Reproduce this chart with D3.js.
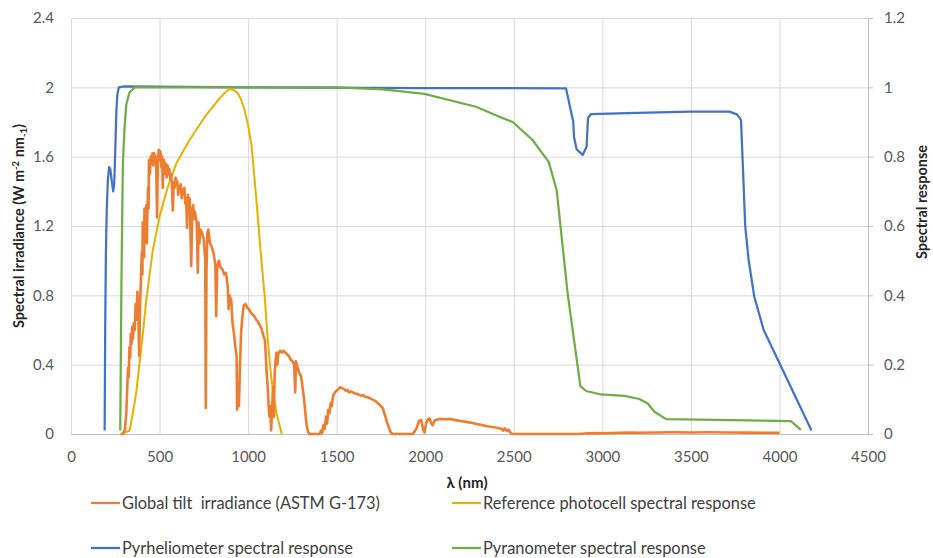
<!DOCTYPE html>
<html>
<head>
<meta charset="utf-8">
<script src="https://cdn.jsdelivr.net/npm/d3@7"></script>
<style>
  body { margin: 0; background: #fff; }
  text { font-family: Lato, "Open Sans", sans-serif; }
</style>
</head>
<body>
<script>
// wavelength (nm) / value pairs
var globalTilt = [[280,0],[295,0],[305,0.03],[312,0.12],[318,0.28],[322,0.38],[326,0.33],[330,0.5],[334,0.44],[338,0.58],[342,0.52],[346,0.62],[350,0.55],[355,0.64],[360,0.6],[365,0.75],[370,0.66],[375,0.82],[380,0.7],[385,0.45],[390,0.75],[395,0.9],[400,1.05],[403,0.92],[405,1.22],[410,1.15],[413,1.02],[415,1.3],[420,1.2],[425,1.32],[428,1.1],[430,1.22],[435,1.42],[438,1.3],[440,1.58],[445,1.5],[450,1.6],[455,1.56],[460,1.62],[465,1.55],[470,1.62],[475,1.58],[480,1.6],[486,1.25],[490,1.55],[495,1.64],[500,1.58],[505,1.63],[510,1.54],[515,1.6],[518,1.42],[520,1.52],[525,1.58],[530,1.5],[535,1.56],[540,1.48],[545,1.55],[550,1.5],[555,1.53],[560,1.47],[565,1.5],[570,1.44],[575,1.29],[580,1.45],[585,1.42],[590,1.48],[595,1.44],[600,1.46],[605,1.38],[610,1.42],[620,1.44],[625,1.36],[630,1.4],[640,1.42],[645,1.33],[650,1.36],[655,1.19],[660,1.38],[665,1.33],[670,1.36],[679,0.97],[685,1.3],[690,1.32],[695,1.24],[700,1.28],[710,1.22],[716,0.93],[720,1.22],[725,1.1],[730,1.18],[740,1.16],[750,1.12],[758,1.0],[761,0.15],[765,0.95],[770,1.16],[775,1.18],[785,1.1],[795,1.08],[805,1.04],[815,0.98],[820,0.68],[825,0.96],[835,1.0],[845,0.96],[855,0.95],[865,0.92],[875,0.93],[885,0.85],[890,0.72],[895,0.8],[905,0.77],[912,0.64],[920,0.58],[928,0.5],[935,0.45],[938,0.14],[942,0.3],[948,0.16],[953,0.35],[960,0.58],[968,0.68],[975,0.74],[985,0.75],[995,0.73],[1005,0.72],[1015,0.7],[1025,0.69],[1035,0.68],[1045,0.66],[1055,0.65],[1065,0.63],[1075,0.61],[1085,0.57],[1095,0.54],[1100,0.45],[1105,0.35],[1110,0.28],[1115,0.18],[1120,0.1],[1125,0.16],[1130,0.02],[1135,0.12],[1140,0.27],[1145,0.1],[1150,0.35],[1155,0.42],[1160,0.47],[1165,0.4],[1170,0.46],[1180,0.48],[1190,0.47],[1200,0.48],[1210,0.47],[1220,0.46],[1230,0.45],[1240,0.43],[1250,0.42],[1260,0.4],[1266,0.24],[1270,0.42],[1280,0.38],[1290,0.35],[1300,0.33],[1310,0.25],[1318,0.18],[1325,0.1],[1332,0.04],[1340,0.01],[1346,0],[1405,0],[1412,0.02],[1418,0.005],[1425,0.05],[1432,0.03],[1440,0.1],[1446,0.06],[1452,0.14],[1460,0.12],[1466,0.18],[1472,0.16],[1480,0.22],[1490,0.24],[1500,0.25],[1510,0.26],[1520,0.27],[1530,0.265],[1540,0.26],[1550,0.25],[1560,0.255],[1570,0.24],[1580,0.245],[1590,0.24],[1600,0.235],[1620,0.23],[1640,0.22],[1650,0.225],[1660,0.215],[1680,0.21],[1700,0.2],[1720,0.19],[1740,0.17],[1760,0.15],[1775,0.1],[1790,0.05],[1805,0.01],[1815,0],[1930,0],[1950,0.03],[1965,0.075],[1977,0.08],[1990,0.02],[1996,0.01],[2005,0.06],[2015,0.085],[2024,0.09],[2035,0.06],[2042,0.05],[2055,0.08],[2080,0.087],[2110,0.085],[2140,0.087],[2170,0.08],[2200,0.075],[2230,0.07],[2260,0.065],[2290,0.058],[2320,0.052],[2350,0.045],[2380,0.04],[2410,0.035],[2430,0.03],[2440,0.02],[2450,0.032],[2460,0.018],[2470,0.025],[2485,0.003],[2500,0],[2880,0],[2900,0.003],[2950,0.005],[3000,0.004],[3050,0.006],[3100,0.007],[3150,0.008],[3200,0.007],[3300,0.009],[3400,0.01],[3500,0.009],[3600,0.01],[3700,0.009],[3800,0.008],[3900,0.007],[4000,0.007]];

var photocell = [[284,0],[331,0.01],[349,0.06],[368,0.118],[387,0.205],[406,0.29],[425,0.386],[462,0.53],[500,0.627],[547,0.713],[594,0.78],[669,0.848],[707,0.877],[763,0.92],[839,0.968],[870,0.985],[895,0.995],[920,0.992],[942,0.983],[960,0.965],[980,0.935],[1000,0.89],[1020,0.83],[1046,0.68],[1070,0.53],[1093,0.4],[1110,0.28],[1130,0.165],[1160,0.06],[1190,0]];

var pyrheliometer = [[190,0.01],[193,0.3],[197,0.52],[202,0.65],[208,0.73],[215,0.77],[222,0.765],[230,0.73],[238,0.7],[244,0.72],[250,0.82],[256,0.93],[262,0.98],[270,1.0],[300,1.003],[1000,1.0],[2000,0.998],[2795,0.997],[2836,0.9],[2840,0.857],[2855,0.821],[2889,0.805],[2911,0.829],[2919,0.911],[2936,0.923],[3200,0.926],[3500,0.93],[3717,0.93],[3760,0.922],[3783,0.906],[3807,0.598],[3826,0.502],[3858,0.396],[3911,0.3],[4181,0.01]];

var pyranometer = [[278,0.01],[285,0.45],[293,0.78],[302,0.88],[312,0.95],[330,0.985],[360,1.0],[1000,1.0],[1497,1.0],[1760,0.994],[1995,0.981],[2287,0.944],[2419,0.915],[2494,0.9],[2606,0.848],[2697,0.785],[2742,0.704],[2804,0.406],[2876,0.138],[2908,0.124],[2992,0.114],[3124,0.11],[3209,0.101],[3256,0.088],[3294,0.064],[3360,0.043],[4065,0.037],[4121,0.012]];

var xTicks = [0, 500, 1000, 1500, 2000, 2500, 3000, 3500, 4000, 4500];
var yLeftTicks = [0, 0.4, 0.8, 1.2, 1.6, 2, 2.4];
var yRightTicks = [0, 0.2, 0.4, 0.6, 0.8, 1, 1.2];

var W = 933, H = 558;
var pL = 71, pR = 868, pT = 18, pB = 434;

var svg = d3.select("body").append("svg")
  .attr("width", W)
  .attr("height", H);

var x = d3.scaleLinear().domain([0, 4500]).range([pL, pR]);
var yL = d3.scaleLinear().domain([0, 2.4]).range([pB, pT]);
var yR = d3.scaleLinear().domain([0, 1.2]).range([pB, pT]);

// gridlines
svg.append("g")
  .attr("transform", "translate(0," + pB + ")")
  .call(d3.axisBottom(x).tickValues(xTicks).tickSize(-(pB - pT)).tickFormat(""))
  .call(function (g) {
    g.select(".domain").remove();
    g.selectAll("line").attr("stroke", "#d9d9d9");
  });
svg.append("g")
  .attr("transform", "translate(" + pL + ",0)")
  .call(d3.axisLeft(yL).tickValues(yLeftTicks).tickSize(-(pR - pL)).tickFormat(""))
  .call(function (g) {
    g.select(".domain").remove();
    g.selectAll("line").attr("stroke", "#d9d9d9");
  });

// axes
var tickColor = "#595959";
svg.append("g")
  .attr("transform", "translate(0," + pB + ")")
  .call(d3.axisBottom(x).tickValues(xTicks).tickSize(0).tickPadding(17).tickFormat(d3.format("d")))
  .call(function (g) {
    g.select(".domain").attr("stroke", "#bfbfbf");
    g.selectAll("text").attr("fill", tickColor).style("font-size", "15px").style("font-family", "Lato");
  });
svg.append("g")
  .attr("transform", "translate(" + pL + ",0)")
  .call(d3.axisLeft(yL).tickValues(yLeftTicks).tickSize(0).tickPadding(17).tickFormat(d3.format("")))
  .call(function (g) {
    g.select(".domain").remove();
    g.selectAll("text").attr("fill", tickColor).style("font-size", "15px").style("font-family", "Lato");
  });
svg.append("g")
  .attr("transform", "translate(" + pR + ",0)")
  .call(d3.axisRight(yR).tickValues(yRightTicks).tickSize(5).tickPadding(11).tickFormat(d3.format("")))
  .call(function (g) {
    g.select(".domain").attr("stroke", "#bfbfbf");
    g.selectAll("line").attr("stroke", "#bfbfbf");
    g.selectAll("text").attr("fill", tickColor).style("font-size", "15px").style("font-family", "Lato");
  });

// series
var series = [
  { data: pyrheliometer, y: yR, color: "#4472c4", w: 2.25 },
  { data: pyranometer, y: yR, color: "#70ad47", w: 2.25 },
  { data: photocell, y: yR, color: "#e8b000", w: 2 },
  { data: globalTilt, y: yL, color: "#ed7d31", w: 2.6 }
];
series.forEach(function (s) {
  var line = d3.line()
    .x(function (d) { return x(d[0]); })
    .y(function (d) { return s.y(d[1]); });
  svg.append("path")
    .datum(s.data)
    .attr("fill", "none")
    .attr("stroke", s.color)
    .attr("stroke-width", s.w)
    .attr("stroke-linejoin", "round")
    .attr("d", line);
});

// axis titles
var lt = svg.append("text")
  .attr("transform", "translate(24," + ((pT + pB) / 2) + ") rotate(-90)")
  .attr("text-anchor", "middle")
  .style("font-size", "14.5px").style("font-weight", "bold").attr("fill", "#262626");
lt.append("tspan").text("Spectral irradiance (W m");
lt.append("tspan").text("-2").style("font-size", "9.5px").attr("dy", -5);
lt.append("tspan").text(" nm").attr("dy", 5);
lt.append("tspan").text("-1").style("font-size", "9.5px").attr("dy", 3);
lt.append("tspan").text(")").attr("dy", -3);

svg.append("text")
  .attr("transform", "translate(927,202) rotate(-90)")
  .attr("text-anchor", "middle")
  .style("font-size", "14.5px").style("font-weight", "bold").attr("fill", "#262626")
  .text("Spectral response");

svg.append("text")
  .attr("x", 467).attr("y", 488)
  .attr("text-anchor", "middle")
  .style("font-size", "15px").style("font-weight", "bold").attr("fill", "#262626")
  .text("λ (nm)");

// legend
var legendNames = ["Global tilt  irradiance (ASTM G-173)", "Reference photocell spectral response",
  "Pyrheliometer spectral response", "Pyranometer spectral response"];
var legendColors = ["#ed7d31", "#e8b000", "#4472c4", "#70ad47"];
var legendPos = [[91, 503], [452, 503], [91, 548], [452, 548]];
legendNames.forEach(function (name, i) {
  var p = legendPos[i];
  svg.append("line")
    .attr("x1", p[0]).attr("x2", p[0] + 29)
    .attr("y1", p[1]).attr("y2", p[1])
    .attr("stroke", legendColors[i]).attr("stroke-width", 2.25);
  svg.append("text")
    .attr("x", p[0] + 31).attr("y", p[1] + 5.5)
    .style("font-size", "16.4px").attr("fill", "#404040")
    .style("white-space", "pre")
    .text(name);
});
</script>
</body>
</html>
